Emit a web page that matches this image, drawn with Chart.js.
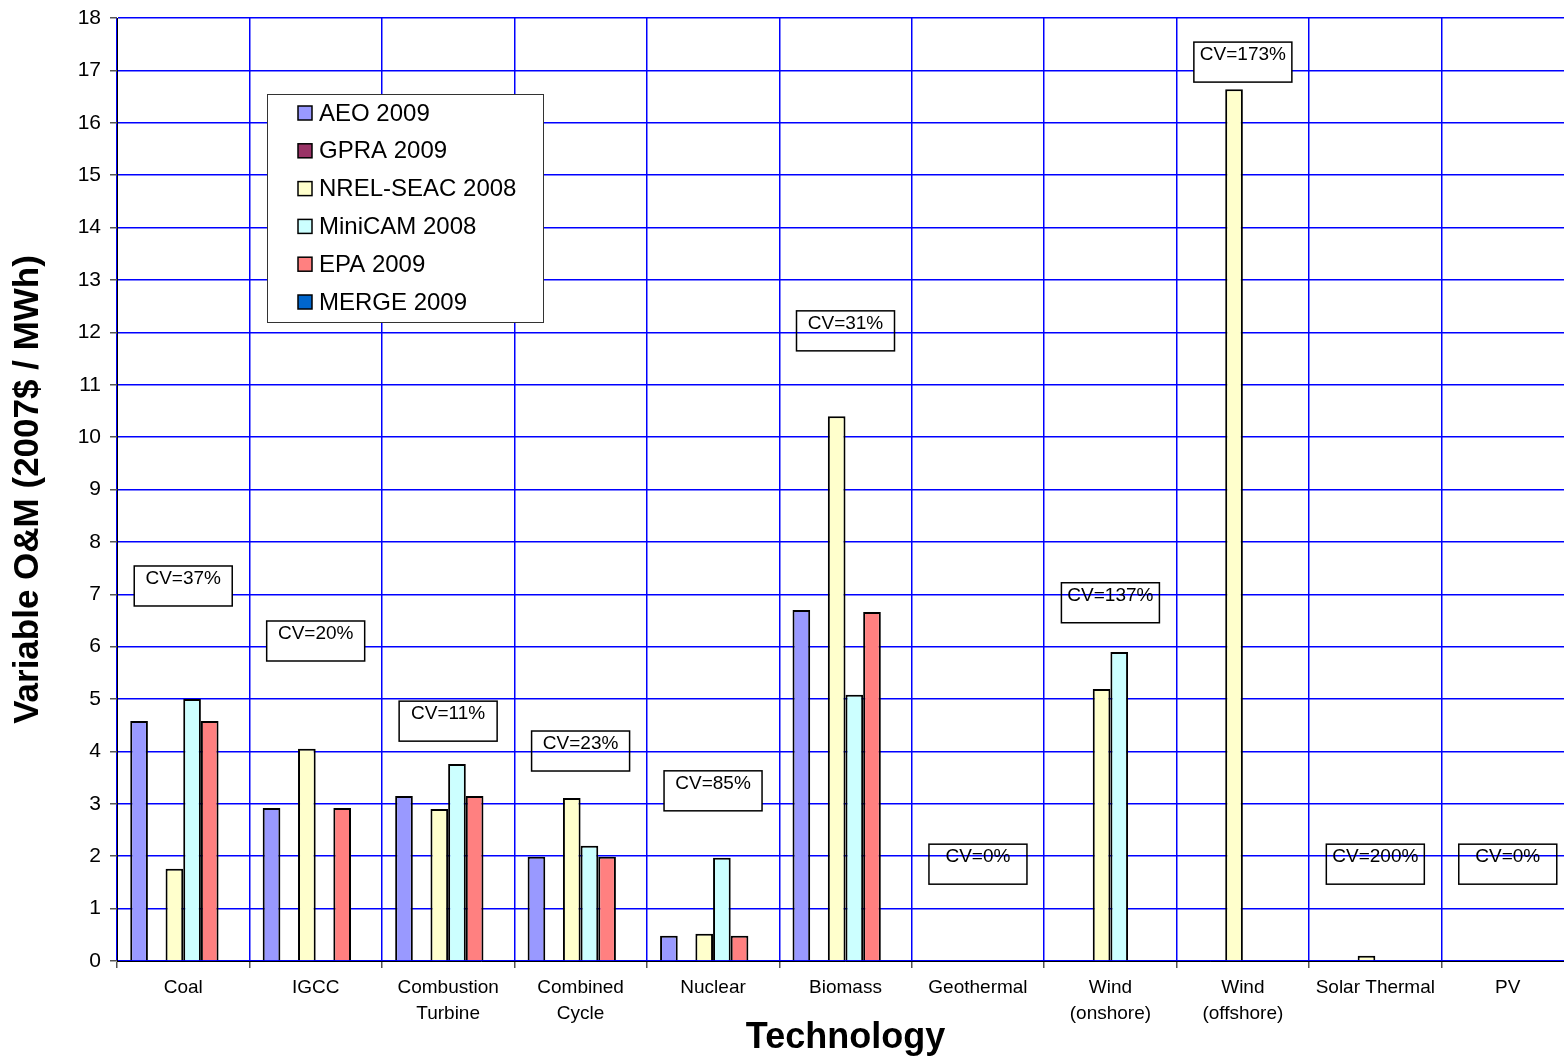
<!DOCTYPE html>
<html>
<head>
<meta charset="utf-8">
<script src="https://cdn.jsdelivr.net/npm/chart.js@4/dist/chart.umd.min.js"></script>
<style>
  html, body { margin: 0; padding: 0; background: #fff; overflow: hidden; }
  #wrap { width: 1582px; height: 1060px; }
</style>
</head>
<body>
<div id="wrap"><canvas id="chart"></canvas></div>
<script>
// --- data ---
const technologies = [
    'Coal', 'IGCC', ['Combustion', 'Turbine'], ['Combined', 'Cycle'], 'Nuclear',
    'Biomass', 'Geothermal', ['Wind', '(onshore)'], ['Wind', '(offshore)'], 'Solar Thermal', 'PV'
];
const aeo2009     = [4.58, 2.92, 3.15, 1.99, 0.48, 6.70, null, null, null, null, null];
const gpra2009    = [null, null, null, null, null, null, null, null, null, null, null];
const nrelSeac2008 = [1.76, 4.05, 2.90, 3.11, 0.52, 10.40, null, 5.19, 16.64, 0.10, null];
const minicam2008 = [5.00, null, 3.76, 2.20, 1.97, 5.08, null, 5.90, null, null, null];
const epa2009     = [4.58, 2.92, 3.15, 1.99, 0.48, 6.66, null, null, null, null, null];
const merge2009   = [null, null, null, null, null, null, null, null, null, null, null];

// coefficient of variation note per technology, and the value where its box sits
const cvLabels = ['CV=37%', 'CV=20%', 'CV=11%', 'CV=23%', 'CV=85%', 'CV=31%',
                  'CV=0%', 'CV=137%', 'CV=173%', 'CV=200%', 'CV=0%'];
const cvTop    = [7.54, 6.49, 4.96, 4.39, 3.63, 12.41, 2.23, 7.22, 17.54, 2.23, 2.23];
const cvOpaque = [true, true, true, false, true, false, false, false, true, false, false];

const yTicks = [0, 1, 2, 3, 4, 5, 6, 7, 8, 9, 10, 11, 12, 13, 14, 15, 16, 17, 18];

const FONT = 'Arial, "Liberation Sans", sans-serif';
const GRID = '#0000ff';

function ds(label, data, color) {
    return {
        label, data,
        backgroundColor: color,
        borderColor: '#000',
        borderWidth: 2,
        borderSkipped: 'bottom',
        categoryPercentage: 0.8,
        barPercentage: 1.0
    };
}

// --- CV boxes on top of the plot ---
const cvBoxes = {
    id: 'cvBoxes',
    afterDatasetsDraw(chart) {
        const ctx = chart.ctx;
        const x = chart.scales.x, y = chart.scales.y;
        ctx.save();
        ctx.font = '19px ' + FONT;
        ctx.textAlign = 'center';
        ctx.textBaseline = 'middle';
        cvLabels.forEach((txt, i) => {
            const cx = x.getPixelForValue(i);
            const top = y.getPixelForValue(cvTop[i]);
            const w = 98, h = 40;
            if (cvOpaque[i]) {
                ctx.fillStyle = '#fff';
                ctx.fillRect(cx - w / 2, top, w, h);
            }
            ctx.strokeStyle = '#000';
            ctx.lineWidth = 1.5;
            ctx.strokeRect(cx - w / 2, top, w, h);
            ctx.fillStyle = '#000';
            ctx.fillText(txt, cx, top + 13);
        });
        ctx.restore();
    }
};

// --- boxed legend inside the plot, like the original ---
const boxLegend = {
    id: 'boxLegend',
    afterDraw(chart) {
        const ctx = chart.ctx;
        const bx = 267, by = 94, bw = 276, bh = 228;
        ctx.save();
        ctx.fillStyle = '#fff';
        ctx.fillRect(bx, by, bw, bh);
        ctx.strokeStyle = '#333';
        ctx.lineWidth = 1;
        ctx.strokeRect(bx + 0.5, by + 0.5, bw, bh);
        ctx.font = '24px ' + FONT;
        ctx.textBaseline = 'middle';
        chart.data.datasets.forEach((d, i) => {
            const ry = by + 19 + i * 37.8;
            ctx.fillStyle = d.backgroundColor;
            ctx.fillRect(bx + 31, ry - 7, 14, 14);
            ctx.strokeStyle = '#000';
            ctx.lineWidth = 1.5;
            ctx.strokeRect(bx + 31, ry - 7, 14, 14);
            ctx.fillStyle = '#000';
            ctx.fillText(d.label, bx + 52, ry + 1);
        });
        ctx.restore();
    }
};

new Chart(document.getElementById('chart'), {
    type: 'bar',
    data: {
        labels: technologies,
        datasets: [
            ds('AEO 2009', aeo2009, '#9999ff'),
            ds('GPRA 2009', gpra2009, '#993366'),
            ds('NREL-SEAC 2008', nrelSeac2008, '#ffffcc'),
            ds('MiniCAM 2008', minicam2008, '#ccffff'),
            ds('EPA 2009', epa2009, '#ff8080'),
            ds('MERGE 2009', merge2009, '#0066cc')
        ]
    },
    options: {
        responsive: true,
        maintainAspectRatio: false,
        animation: false,
        layout: { padding: { left: 0, right: 8, top: 18, bottom: 0 } },
        plugins: {
            legend: { display: false },
            tooltip: { enabled: false }
        },
        scales: {
            x: {
                grid: {
                    offset: true,
                    color: GRID,
                    lineWidth: 1.5,
                    tickColor: '#555',
                    tickLength: 7
                },
                border: { color: '#000', width: 1 },
                ticks: {
                    color: '#000',
                    font: { family: FONT, size: 19, lineHeight: 1.4 },
                    padding: 6,
                    maxRotation: 0,
                    autoSkip: false
                },
                title: {
                    display: true,
                    text: 'Technology',
                    color: '#000',
                    font: { family: FONT, size: 36, weight: 'bold' },
                    padding: { top: 0, bottom: 0 }
                },
                afterFit(scale) {
                    scale.height = 99;
                    scale.paddingLeft = 0;
                    scale.paddingRight = 0;
                }
            },
            y: {
                min: 0,
                max: 18,
                afterBuildTicks(scale) { scale.ticks = yTicks.map(v => ({ value: v })); },
                grid: {
                    color: GRID,
                    lineWidth: 1.5,
                    tickColor: '#555',
                    tickLength: 7
                },
                border: { color: '#000', width: 1 },
                ticks: {
                    color: '#000',
                    font: { family: FONT, size: 21 },
                    padding: 9
                },
                title: {
                    display: true,
                    text: 'Variable O&M (2007$ / MWh)',
                    color: '#000',
                    font: { family: FONT, size: 35, weight: 'bold' },
                    padding: { top: 7, bottom: 0 }
                },
                afterFit(scale) {
                    scale.width = 117;
                    scale.paddingTop = 0;
                    scale.paddingBottom = 0;
                }
            }
        }
    },
    plugins: [cvBoxes, boxLegend]
});
</script>
</body>
</html>
